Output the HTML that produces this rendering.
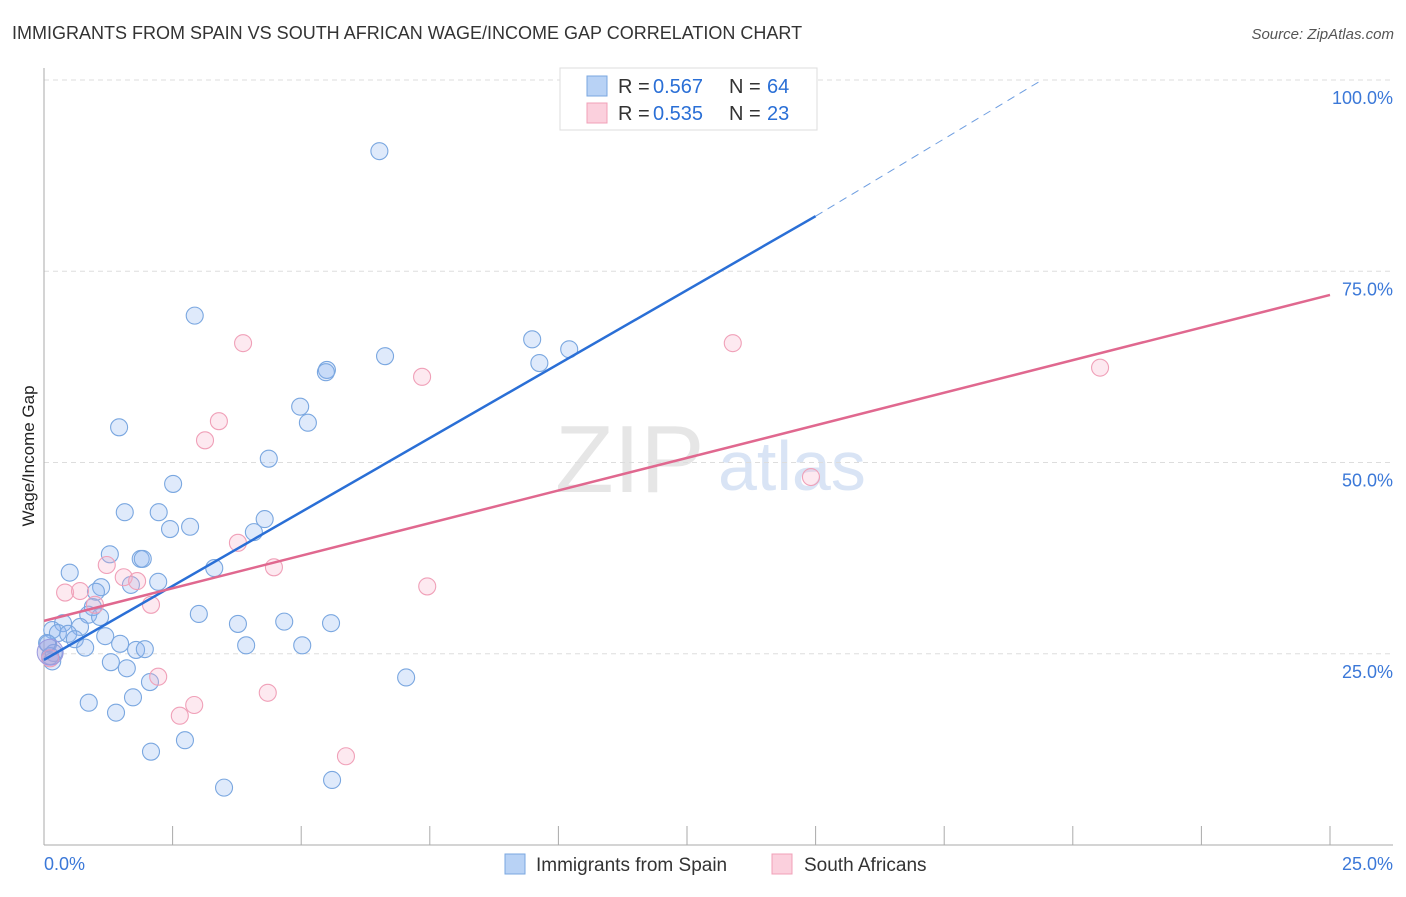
<!DOCTYPE html>
<html><head><meta charset="utf-8"><style>
body{margin:0;background:#fff;font-family:"Liberation Sans",sans-serif;}
svg text{font-family:"Liberation Sans",sans-serif;}
</style></head><body>
<svg width="1406" height="892" xmlns="http://www.w3.org/2000/svg">
<text x="12" y="39" font-size="18" fill="#333">IMMIGRANTS FROM SPAIN VS SOUTH AFRICAN WAGE/INCOME GAP CORRELATION CHART</text>
<text x="1394" y="39" font-size="15" fill="#555" font-style="italic" text-anchor="end">Source: ZipAtlas.com</text>
<text x="34" y="456" font-size="17" fill="#222" text-anchor="middle" transform="rotate(-90 34 456)">Wage/Income Gap</text>
<text x="555" y="492" font-size="96" fill="#e6e6e6" font-family="Liberation Serif">ZIP</text>
<text x="718" y="490" font-size="70" fill="#d9e4f5">atlas</text>
<g id="grid"></g><g id="axes"></g><g id="pts"></g><g id="lines"></g>
<g>
<rect x="560" y="68" width="257" height="62" fill="#fff" stroke="#ddd"/>
<rect x="587" y="76" width="20" height="20" fill="#b8d2f5" stroke="#7aa7e0"/>
<text x="618" y="93" font-size="20" fill="#333">R =</text><text x="653" y="93" font-size="20" fill="#2a6fd6">0.567</text>
<text x="729" y="93" font-size="20" fill="#333">N =</text><text x="767" y="93" font-size="20" fill="#2a6fd6">64</text>
<rect x="587" y="103" width="20" height="20" fill="#fbd0dd" stroke="#f0a0b8"/>
<text x="618" y="120" font-size="20" fill="#333">R =</text><text x="653" y="120" font-size="20" fill="#2a6fd6">0.535</text>
<text x="729" y="120" font-size="20" fill="#333">N =</text><text x="767" y="120" font-size="20" fill="#2a6fd6">23</text>
</g>
<g>
<rect x="505" y="854" width="20" height="20" fill="#b8d2f5" stroke="#7aa7e0"/>
<text x="536" y="871" font-size="19" fill="#333">Immigrants from Spain</text>
<rect x="772" y="854" width="20" height="20" fill="#fbd0dd" stroke="#f0a0b8"/>
<text x="804" y="871" font-size="19" fill="#333">South Africans</text>
</g>
</svg>
<script>
const yTicks=[25,50,75,100];
const yTickLabels=["25.0%","50.0%","75.0%","100.0%"];
const xTickLabels=["0.0%","25.0%"];
const blueX=[6.52,2.93,1.46,5.5,5.48,6.63,9.49,10.21,9.63,4.98,5.13,4.37,2.51,1.57,2.23,2.45,2.84,4.08,4.29,1.28,1.88,1.92,0.5,2.22,3.31,1.11,1.69,1.01,0.95,3.01,0.86,1.09,0.37,0.7,0.16,0.27,0.47,0.6,1.19,1.48,3.77,4.67,5.58,3.93,5.02,1.79,1.96,0.8,0.08,0.12,1.3,1.61,2.06,7.04,0.87,1.73,1.4,2.74,2.08,3.5,5.6,0.19,0.06,0.16];
const blueY=[90.7,69.2,54.6,62.1,61.8,63.9,66.1,64.8,63,57.3,55.2,50.5,47.2,43.5,43.5,41.3,41.6,40.9,42.6,38.0,37.4,37.4,35.6,34.4,36.2,33.7,34.0,33.1,31.1,30.2,30.1,29.8,29.0,28.5,28.1,27.7,27.6,26.9,27.3,26.3,28.9,29.2,29.0,26.1,26.1,25.5,25.6,25.8,26.3,24.7,23.9,23.1,21.3,21.9,18.6,19.3,17.3,13.7,12.2,7.5,8.5,25.1,26.4,24.0];
const pinkX=[3.87,3.4,3.13,7.35,13.39,20.53,14.91,3.77,4.47,7.45,1.22,1.55,1.81,0.41,0.7,2.08,0.99,2.22,2.92,2.64,4.35,5.87,0.12];
const pinkY=[65.6,55.4,52.9,61.2,65.6,62.4,48.1,39.5,36.3,33.8,36.6,35.0,34.5,33.0,33.2,31.4,31.4,22.0,18.3,16.9,19.9,11.6,24.4];
const blueLine=[[0,24.2],[15,82.2]],blueDash=[[15,82.2],[19.4,100]];
const pinkLine=[[0,29.3],[25,71.9]];
const NS="http://www.w3.org/2000/svg";
const X0=44,X1=1330,Y0=845,Y1=80;
const sx=v=>X0+v/25*(X1-X0), sy=v=>Y0-v/100*(Y0-Y1);
function mk(t,a,p){const e=document.createElementNS(NS,t);for(const k in a)e.setAttribute(k,a[k]);p.appendChild(e);return e;}
const grid=document.getElementById('grid'),axes=document.getElementById('axes'),pts=document.getElementById('pts'),lines=document.getElementById('lines');
yTicks.forEach((t,i)=>{
 const l=mk('line',{x1:X0,x2:1393,y1:sy(t),y2:sy(t),stroke:'#ddd','stroke-dasharray':'5,4'},grid);
 
 
 const tx=mk('text',{x:1393,y:sy(t)+24,'font-size':18,fill:'#3b78d8','text-anchor':'end'},axes);
 tx.textContent=yTickLabels[i];
 
 
});
mk('line',{x1:X0,x2:X0,y1:68,y2:845,stroke:'#aaa'},axes);
mk('line',{x1:X0,x2:1393,y1:845,y2:845,stroke:'#aaa'},axes);
for(let i=1;i<=10;i++){const l=mk('line',{x1:sx(i*2.5),x2:sx(i*2.5),y1:826,y2:845,stroke:'#aaa'},axes);
 
 }
let t1=mk('text',{x:44,y:870,'font-size':18,fill:'#3b78d8'},axes);t1.textContent=xTickLabels[0];


let t2=mk('text',{x:1393,y:870,'font-size':18,fill:'#3b78d8','text-anchor':'end'},axes);t2.textContent=xTickLabels[1];


blueX.forEach((v,i)=>{const c=mk('circle',{cx:sx(v),cy:sy(blueY[i]),r:8.5,fill:'rgba(140,180,240,0.28)',stroke:'#7aa7e0','stroke-width':1.1},pts);
 
 });
pinkX.forEach((v,i)=>{const c=mk('circle',{cx:sx(v),cy:sy(pinkY[i]),r:8.5,fill:'rgba(248,175,200,0.28)',stroke:'#f0a0b8','stroke-width':1.1},pts);
 
 });
const big=mk('circle',{cx:sx(0.12),cy:sy(25.2),r:13,fill:'rgba(160,150,215,0.35)',stroke:'#9a9ae0'},pts);


function ln(d,col,extra,name){const e=mk('line',Object.assign({x1:sx(d[0][0]),y1:sy(d[0][1]),x2:sx(d[1][0]),y2:sy(d[1][1]),stroke:col},extra),lines);
 
 }
ln(blueLine,'#2a6fd6',{'stroke-width':2.5},'trend-line-spain');
ln(blueDash,'#6d9de0',{'stroke-width':1,'stroke-dasharray':'8,6'},'trend-line-spain-extension');
ln(pinkLine,'#e0688f',{'stroke-width':2.5},'trend-line-south-african');
</script>
</body></html>
